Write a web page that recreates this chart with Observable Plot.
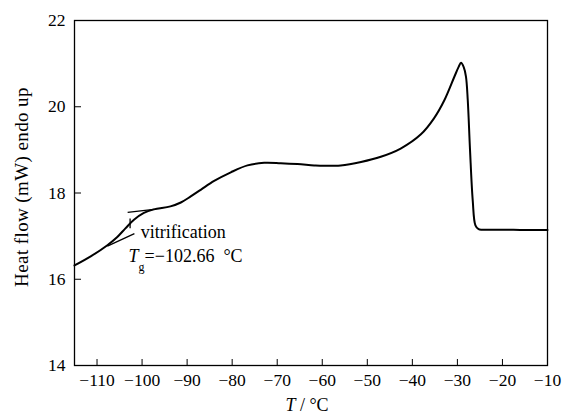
<!DOCTYPE html>
<html>
<head>
<meta charset="utf-8">
<script src="https://cdn.jsdelivr.net/npm/d3@7"></script>
<script src="https://cdn.jsdelivr.net/npm/@observablehq/plot@0.6"></script>
<style>
  html, body { margin: 0; padding: 0; background: #fff; }
  #chart svg { display: block; }
  #chart svg, #chart svg text, #chart svg tspan { font-family: "Liberation Serif", serif !important; }
</style>
</head>
<body>
<div id="chart"></div>
<script>
// DSC heating trace: temperature (°C) vs heat flow (mW), endotherm up
const temperature = [-115, -111.4, -107.7, -105.5, -103.7, -101.8, -99.6, -97.4, -93.7, -91.4,
  -89.2, -86.9, -84.0, -80.3, -76.6, -72.9, -69.2, -65.5, -61.8, -59.7,
  -55.9, -51.4, -47.0, -42.6, -38.1, -35.2, -32.9, -30.7, -29.7, -29.2,
  -28.6, -28.1, -27.7, -27.2, -26.6, -26.0, -25.3, -24.3, -20, -15, -10];
const heatFlow = [16.32, 16.53, 16.79, 16.98, 17.18, 17.38, 17.54, 17.62, 17.69, 17.78,
  17.92, 18.08, 18.28, 18.48, 18.64, 18.70, 18.69, 18.67, 18.64, 18.63,
  18.64, 18.72, 18.84, 19.03, 19.36, 19.73, 20.15, 20.69, 20.93, 21.02,
  20.92, 20.70, 20.15, 19.0, 17.83, 17.25, 17.16, 17.15, 17.15, 17.14, 17.14];

// glass-transition construction: two tangents and the Tg marker
const tangentUpperT = [-103.2, -97.4];
const tangentUpperH = [17.55, 17.62];
const tangentLowerT = [-107.7, -101.7];
const tangentLowerH = [16.77, 17.06];
const tg = -102.66;
const tgMarkH = [17.18, 17.41];

const xTicks = [-110, -100, -90, -80, -70, -60, -50, -40, -30, -20, -10];
const yTicks = [14, 16, 18, 20, 22];

const trace = temperature.map((t, i) => ({t, h: heatFlow[i]}));
const tangents = [
  {x1: tangentUpperT[0], y1: tangentUpperH[0], x2: tangentUpperT[1], y2: tangentUpperH[1]},
  {x1: tangentLowerT[0], y1: tangentLowerH[0], x2: tangentLowerT[1], y2: tangentLowerH[1]},
  {x1: tg, y1: tgMarkH[0], x2: tg, y2: tgMarkH[1]}
];
const tgLabel = "Tg=\u2212" + Math.abs(tg).toFixed(2) + "  \u00B0C";

const font = "Liberation Serif, serif";

const chart = Plot.plot({
  width: 563,
  height: 415,
  marginLeft: 74,
  marginRight: 16,
  marginTop: 20,
  marginBottom: 50,
  style: {fontFamily: font, fontSize: "17.5px", color: "#000", background: "#fff"},
  x: {domain: [-115, -10]},
  y: {domain: [14, 22]},
  marks: [
    Plot.frame({stroke: "#000", strokeWidth: 1.3}),
    Plot.axisX({ticks: xTicks, tickSize: -6, tickPadding: 14, label: null, tickFormat: d => d === 0 ? "0" : "\u2212" + Math.abs(d)}),
    Plot.axisY({ticks: yTicks, tickSize: -7, tickPadding: 16, label: null}),
    Plot.link(tangents, {x1: "x1", y1: "y1", x2: "x2", y2: "y2", stroke: "#000", strokeWidth: 1.3}),
    Plot.line(trace, {x: "t", y: "h", curve: "catmull-rom", stroke: "#000", strokeWidth: 2}),
    Plot.text(["vitrification"], {x: -100.3, y: 17.09, text: d => d, textAnchor: "start", fontSize: 18}),
    Plot.text([tgLabel], {x: -103.0, y: 16.53, text: d => d, textAnchor: "start", fontSize: 18})
  ]
});

const svg = d3.select(chart);

// italic T with subscript g in the Tg annotation
svg.selectAll("text").filter(function () { return this.textContent === tgLabel; })
  .each(function () {
    const el = d3.select(this);
    const rest = tgLabel.slice(2);
    el.text(null);
    el.append("tspan").attr("font-style", "italic").text("T");
    el.append("tspan").attr("font-size", "12px").attr("dy", "0.7em").text("g");
    el.append("tspan").attr("dy", "-0.47em").text(rest);
  });

// axis titles
svg.append("text")
  .attr("transform", "translate(21,187) rotate(-90)")
  .attr("text-anchor", "middle")
  .attr("dominant-baseline", "central")
  .attr("font-size", 19)
  .attr("letter-spacing", "0.4px")
  .attr("fill", "#000")
  .text("Heat flow (mW) endo up");

const xt = svg.append("text")
  .attr("x", 307)
  .attr("y", 411)
  .attr("text-anchor", "middle")
  .attr("font-size", 18)
  .attr("fill", "#000");
xt.append("tspan").attr("font-style", "italic").text("T");
xt.append("tspan").text(" / \u00B0C");

document.getElementById("chart").appendChild(chart);
</script>
</body>
</html>
